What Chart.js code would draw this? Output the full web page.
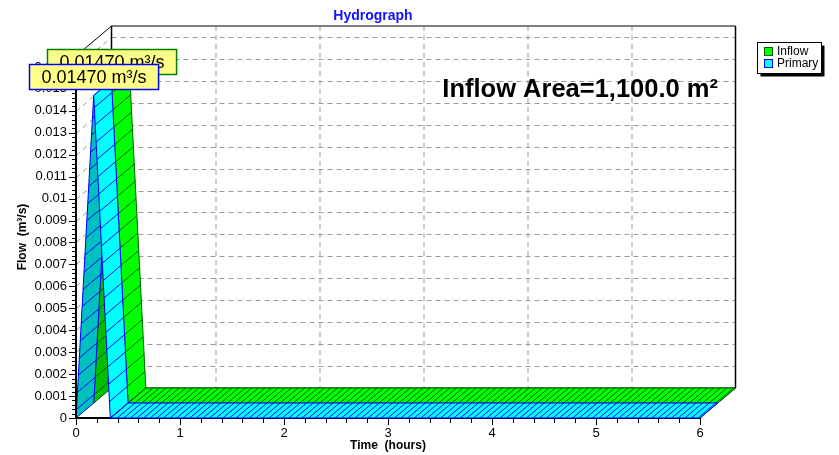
<!DOCTYPE html>
<html><head><meta charset="utf-8">
<script src="https://cdn.jsdelivr.net/npm/chart.js@4/dist/chart.umd.min.js"></script>
<style>html,body{margin:0;padding:0;background:#fff;overflow:hidden;}canvas{display:block;}</style>
</head><body>
<canvas id="c" width="839" height="455"></canvas>
<script>
// ---------- data ----------
const hours = [0, 0.17, 0.33, 6];
const inflowFlow = [0, 0.0147, 0, 0];
const primaryFlow = [0, 0.0147, 0, 0];
const seriesNames = ['Inflow', 'Primary'];
const xTickLabels = ['0', '1', '2', '3', '4', '5', '6'];
const yTickLabels = ['0', '0.001', '0.002', '0.003', '0.004', '0.005', '0.006', '0.007', '0.008',
  '0.009', '0.01', '0.011', '0.012', '0.013', '0.014', '0.015', '0.016'];
const peakLabels = ['0.01470 m³/s', '0.01470 m³/s'];
const chartTitle = 'Hydrograph';
const areaText = 'Inflow Area=1,100.0 m²';
const xTitle = 'Time  (hours)';
const yTitle = 'Flow  (m³/s)';

// ---------- styles ----------
const FONT = "'Liberation Sans', Arial, Helvetica, sans-serif";
Chart.defaults.font.family = FONT;
const DX = 17.75, DY = -15;           // depth offset of one series slot
const SLOTS = 2;
const styles = [
  {bright: '#00FF00', dark: '#00BE00', edge: '#006000', slot: 1, box: '#008000'},
  {bright: '#00FFFF', dark: '#00BFBF', edge: '#0000FF', slot: 0, box: '#0000FF'}
];

function seg(ctx, x1, y1, x2, y2) { ctx.beginPath(); ctx.moveTo(x1, y1); ctx.lineTo(x2, y2); ctx.stroke(); }

const threeD = {
  id: 'threeD',
  beforeDraw(chart) {
    const {ctx, chartArea: a, scales: {x, y}} = chart;
    const bx = DX * SLOTS, by = DY * SLOTS;
    ctx.save();
    ctx.fillStyle = '#fff'; ctx.fillRect(0, 0, chart.width, chart.height);
    // dashed grid on back wall and left wall
    ctx.setLineDash([5, 4]); ctx.strokeStyle = '#9a9a9a'; ctx.lineWidth = 1;
    yTickLabels.forEach((t, i) => {
      if (i === 0) return;
      const py = Math.round(y.getPixelForValue(+t)) + 0.5;
      seg(ctx, a.left + bx, py + by, a.right + bx, py + by);
      seg(ctx, a.left, py, a.left + bx, py + by);
    });
    xTickLabels.forEach((t, i) => {
      if (i === 0 || i === xTickLabels.length - 1) return;
      const px = Math.round(x.getPixelForValue(+t)) + 0.5 + bx;
      seg(ctx, px, a.top + by, px, a.bottom + by);
    });
    ctx.setLineDash([]);
    // frame
    ctx.strokeStyle = '#555'; ctx.lineWidth = 1.5;
    seg(ctx, a.left + bx, a.top + by, a.right + bx, a.top + by);
    ctx.strokeStyle = '#000'; ctx.lineWidth = 1.5;
    seg(ctx, a.left + bx, a.top + by, a.left + bx, a.bottom + by);
    seg(ctx, a.right + bx, a.top + by, a.right + bx, a.bottom + by);
    ctx.lineWidth = 1;
    seg(ctx, a.left, a.top, a.left + bx, a.top + by);
    seg(ctx, a.left + bx, a.bottom + by, a.right + bx, a.bottom + by);
    seg(ctx, a.right, a.bottom, a.right + bx, a.bottom + by);
    // x axis line + ticks
    ctx.lineWidth = 2;
    seg(ctx, a.left, a.bottom, a.right, a.bottom);
    ctx.lineWidth = 1;
    for (let i = 0; i < xTickLabels.length; i++) {
      const v0 = +xTickLabels[i];
      const px = Math.round(x.getPixelForValue(v0)) + 0.5;
      seg(ctx, px, a.bottom, px, a.bottom + 7);
      if (i < xTickLabels.length - 1) {
        const v1 = +xTickLabels[i + 1];
        for (let k = 1; k < 5; k++) {
          const mx = Math.round(x.getPixelForValue(v0 + (v1 - v0) * k / 5)) + 0.5;
          seg(ctx, mx, a.bottom, mx, a.bottom + 5);
        }
      }
    }
    ctx.restore();
  },
  afterDatasetsDraw(chart) {
    const {ctx, chartArea: a, scales: {x, y}} = chart;
    ctx.save();
    // ribbons, back slot first
    const order = [0, 1].sort((p, q) => styles[q].slot - styles[p].slot);
    order.forEach(di => {
      const st = styles[di];
      const pts = chart.getDatasetMeta(di).data;
      const ox = st.slot * DX, oy = st.slot * DY;
      let acc = 0.5;
      ctx.lineWidth = 1;
      for (let k = 0; k < pts.length - 1; k++) {
        const f0x = pts[k].x + ox, f0y = pts[k].y + oy;
        const f1x = pts[k + 1].x + ox, f1y = pts[k + 1].y + oy;
        const rising = f1y < f0y - 0.01;
        ctx.beginPath();
        ctx.moveTo(f0x, f0y); ctx.lineTo(f1x, f1y);
        ctx.lineTo(f1x + DX, f1y + DY); ctx.lineTo(f0x + DX, f0y + DY);
        ctx.closePath();
        ctx.fillStyle = rising ? st.dark : st.bright;
        ctx.fill();
        ctx.strokeStyle = st.edge;
        ctx.stroke();
        // hatch lines along depth direction
        const m = Math.abs(f1x - f0x) / 6.6 + Math.abs(f1y - f0y) / 20;
        let next = Math.ceil(acc);
        while (next <= acc + m) {
          const u = (next - acc) / m;
          const hx = f0x + (f1x - f0x) * u, hy = f0y + (f1y - f0y) * u;
          seg(ctx, hx, hy, hx + DX, hy + DY);
          next++;
        }
        acc += m;
      }
    });
    // y axis line + ticks
    ctx.strokeStyle = '#000'; ctx.lineWidth = 2;
    seg(ctx, a.left, a.top, a.left, a.bottom + 1);
    ctx.lineWidth = 1;
    for (let i = 0; i < yTickLabels.length; i++) {
      const v0 = +yTickLabels[i];
      const py = Math.round(y.getPixelForValue(v0)) + 0.5;
      seg(ctx, a.left - 7, py, a.left, py);
      const v1 = i < yTickLabels.length - 1 ? +yTickLabels[i + 1] : v0 + (v0 - +yTickLabels[i - 1]);
      for (let k = 1; k < 5; k++) {
        const v = v0 + (v1 - v0) * k / 5;
        if (v > y.max) break;
        const my = Math.round(y.getPixelForValue(v)) + 0.5;
        seg(ctx, a.left - 4, my, a.left, my);
      }
    }
    // peak labels
    order.forEach(di => {
      const st = styles[di];
      const vals = chart.data.datasets[di].data.map(p => p.y);
      const pk = vals.indexOf(Math.max(...vals));
      const el = chart.getDatasetMeta(di).data[pk];
      const px = el.x + st.slot * DX, py = el.y + st.slot * DY;
      ctx.font = '18px ' + FONT;
      const tw = ctx.measureText(peakLabels[di]).width;
      const w = tw + 24, h = 25;
      const bxl = Math.round(px - w / 2) + 0.5, byt = Math.round(py - 6 - h) + 0.5;
      ctx.fillStyle = '#FFFF88'; ctx.fillRect(bxl, byt, w, h);
      ctx.strokeStyle = st.box; ctx.lineWidth = 1.5; ctx.strokeRect(bxl, byt, w, h);
      ctx.fillStyle = '#000'; ctx.textAlign = 'center'; ctx.textBaseline = 'middle';
      ctx.fillText(peakLabels[di], bxl + w / 2, byt + h / 2 + 1);
    });
    // area text
    ctx.font = 'bold 25.5px ' + FONT; ctx.fillStyle = '#000';
    ctx.textAlign = 'right'; ctx.textBaseline = 'alphabetic';
    ctx.fillText(areaText, 718, 96.5);
    // title
    ctx.font = 'bold 14px ' + FONT; ctx.fillStyle = '#1010FF'; ctx.textAlign = 'center';
    ctx.fillText(chartTitle, 373, 19.5);
    // legend
    const lx = 757.5, ly = 42.5, lw = 64, lh = 31;
    ctx.fillStyle = '#000'; ctx.fillRect(lx + 3, ly + 3, lw, lh);
    ctx.fillStyle = '#fff'; ctx.fillRect(lx, ly, lw, lh);
    ctx.strokeStyle = '#000'; ctx.lineWidth = 1; ctx.strokeRect(lx, ly, lw, lh);
    seriesNames.forEach((n, i) => {
      const st = styles[i];
      const sy = 47.5 + i * 12;
      ctx.fillStyle = st.bright; ctx.fillRect(764.5, sy, 8, 8);
      ctx.strokeStyle = st.edge === '#006000' ? '#006000' : '#0000FF'; ctx.strokeRect(764.5, sy, 8, 8);
      ctx.fillStyle = '#000'; ctx.font = '12px ' + FONT; ctx.textAlign = 'left'; ctx.textBaseline = 'middle';
      ctx.fillText(n, 777, sy + 4.5);
    });
    ctx.restore();
  }
};

const toPts = vals => hours.map((h, i) => ({x: h, y: vals[i]}));

new Chart(document.getElementById('c'), {
  type: 'line',
  data: {
    datasets: [
      {label: seriesNames[0], data: toPts(inflowFlow), showLine: false, pointRadius: 0, pointHoverRadius: 0},
      {label: seriesNames[1], data: toPts(primaryFlow), showLine: false, pointRadius: 0, pointHoverRadius: 0}
    ]
  },
  options: {
    responsive: false, animation: false, devicePixelRatio: 1,
    events: [],
    layout: {padding: {left: 0, right: 139, top: 56, bottom: 0}},
    plugins: {legend: {display: false}, tooltip: {enabled: false}, title: {display: false}},
    scales: {
      x: {
        type: 'linear', min: 0, max: 6,
        afterBuildTicks: s => { s.ticks = xTickLabels.map(v => ({value: +v})); },
        afterFit: s => { s.height = 37; },
        grid: {display: false, drawTicks: false}, border: {display: false},
        ticks: {callback: (v, i) => xTickLabels[i], color: '#000', font: {size: 13}, padding: 8, maxRotation: 0, autoSkip: false},
        title: {display: true, text: xTitle, color: '#000', font: {size: 12, weight: 'bold'}, padding: {top: 0, bottom: 2}}
      },
      y: {
        type: 'linear', min: 0, max: 0.0165,
        afterBuildTicks: s => { s.ticks = yTickLabels.map(v => ({value: +v})); },
        afterFit: s => { s.width = 76; },
        grid: {display: false, drawTicks: false}, border: {display: false},
        ticks: {callback: (v, i) => yTickLabels[i], color: '#000', font: {size: 13}, padding: 9, autoSkip: false},
        title: {display: true, text: yTitle, color: '#000', font: {size: 12, weight: 'bold'}, padding: {top: 15, bottom: 0}}
      }
    }
  },
  plugins: [threeD]
});
</script>
</body></html>
